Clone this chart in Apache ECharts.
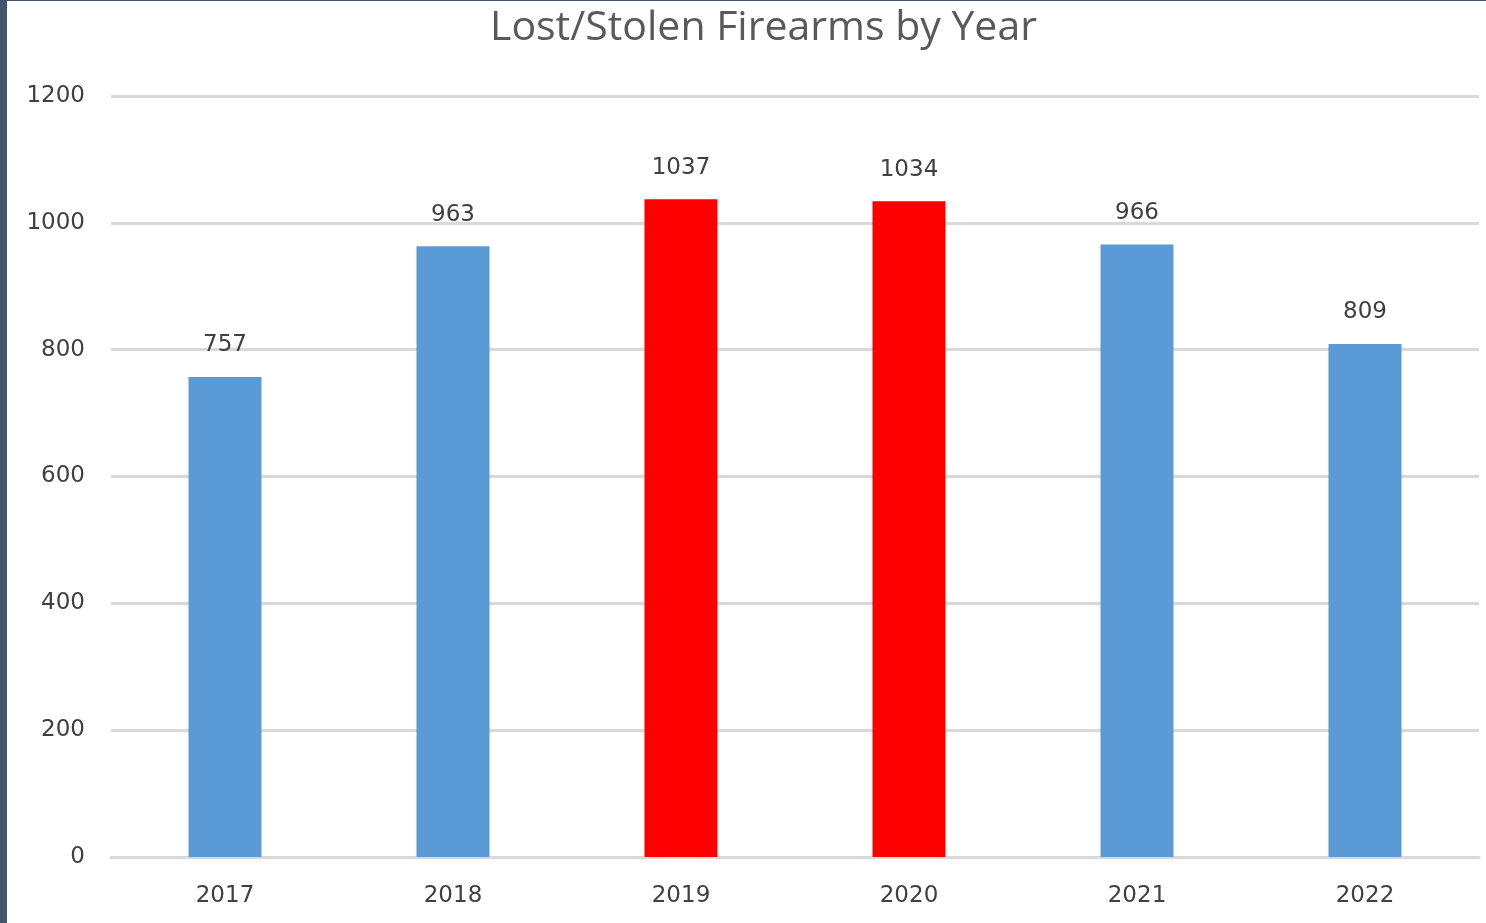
<!DOCTYPE html>
<html>
<head>
<meta charset="utf-8">
<script src="https://cdn.jsdelivr.net/npm/echarts@6/dist/echarts.min.js"></script>
<style>
  html, body { margin: 0; padding: 0; background: #44546a; width: 1486px; height: 923px; overflow: hidden; }
  #main { position: absolute; left: 7px; top: 1px; width: 1479px; height: 922px; background: #fff; }
</style>
</head>
<body>
<div id="main"></div>
<script>
var years = ['2017', '2018', '2019', '2020', '2021', '2022'];
var counts = [757, 963, 1037, 1034, 966, 809];
var barColors = ['#5b9bd5', '#5b9bd5', '#ff0000', '#ff0000', '#5b9bd5', '#5b9bd5'];
var yTicks = [0, 200, 400, 600, 800, 1000, 1200];

var myChart = echarts.init(document.getElementById('main'));
var option = {
    animation: false,
    title: {
        text: 'Lost/Stolen Firearms by Year',
        left: 478,
        top: 2,
        textStyle: { fontFamily: 'Open Sans', fontSize: 41, fontWeight: 'normal', color: '#595959' }
    },
    grid: { left: 104, right: 7, top: 95, bottom: 66 },
    xAxis: {
        type: 'category',
        data: years,
        axisTick: { show: false },
        axisLine: { lineStyle: { color: '#d9d9d9', width: 3 } },
        axisLabel: { fontFamily: 'DejaVu Sans', fontSize: 23, color: '#404040', margin: 28 }
    },
    yAxis: {
        type: 'value',
        min: yTicks[0],
        max: yTicks[yTicks.length - 1],
        interval: 200,
        axisLine: { show: false },
        axisTick: { show: false },
        splitLine: { lineStyle: { color: '#d9d9d9', width: 3 } },
        axisLabel: {
            fontFamily: 'DejaVu Sans', fontSize: 23, color: '#404040', margin: 26,
            formatter: function (v) { return String(v); }
        }
    },
    series: [{
        type: 'bar',
        barWidth: 73,
        data: counts.map(function (v, i) {
            return { value: v, itemStyle: { color: barColors[i] } };
        }),
        label: {
            show: true,
            position: 'top',
            distance: 20,
            fontFamily: 'DejaVu Sans',
            fontSize: 23,
            color: '#404040'
        }
    }]
};
myChart.setOption(option);
</script>
</body>
</html>
